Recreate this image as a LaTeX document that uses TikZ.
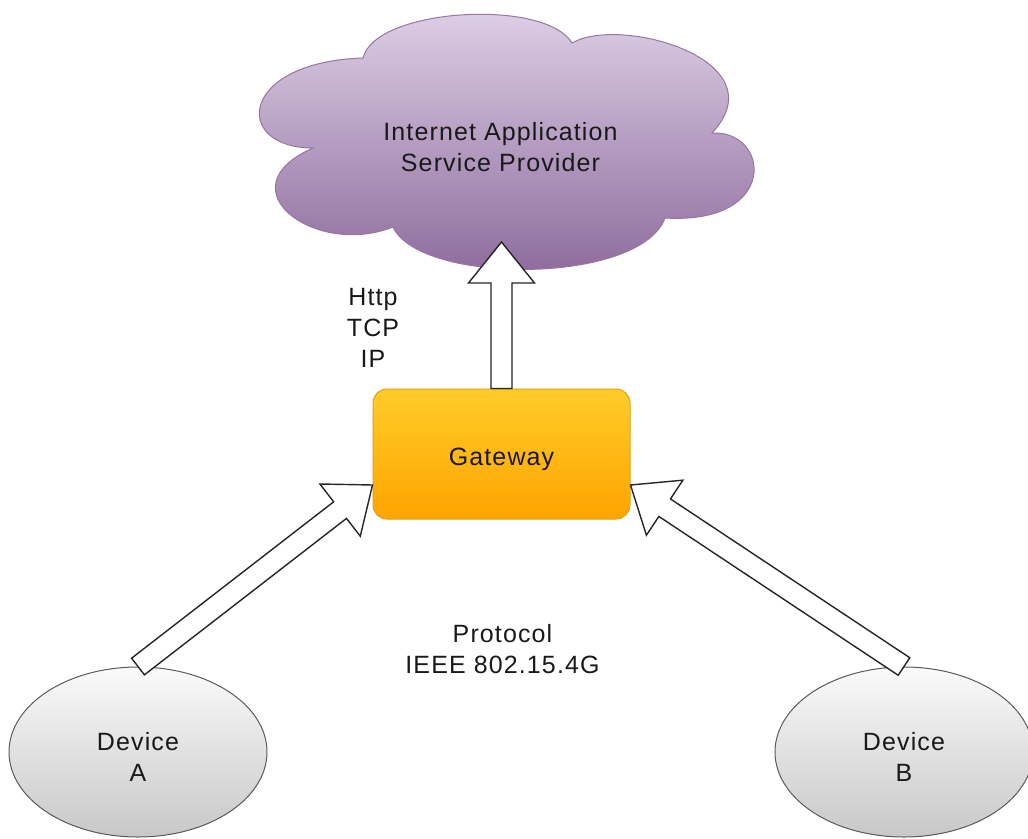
\documentclass[tikz,border=0pt]{standalone}
\usepackage{fontspec}
\setmainfont{Liberation Sans}[LetterSpace=4.5]
\usetikzlibrary{shapes.geometric,calc}

\definecolor{cloudtop}{RGB}{224,211,232}
\definecolor{cloudbottom}{RGB}{139,104,155}
\definecolor{cloudedge}{RGB}{150,118,165}
\definecolor{gwtop}{RGB}{255,204,42}
\definecolor{gwbottom}{RGB}{255,164,0}
\definecolor{gwedge}{RGB}{228,160,20}
\definecolor{devtop}{RGB}{250,250,250}
\definecolor{devbottom}{RGB}{200,200,200}
\definecolor{devedge}{RGB}{90,90,90}

\tikzset{
  label text/.style={font=\fontsize{25}{31}\selectfont, text=black!90, align=center},
  device/.style={ellipse, draw=devedge, line width=1pt,
    top color=devtop, bottom color=devbottom, inner sep=0pt,
    minimum width=258pt, minimum height=170pt},
  gateway box/.style={rectangle, rounded corners=14pt, draw=gwedge, line width=1pt,
    top color=gwtop, bottom color=gwbottom, inner sep=0pt,
    minimum width=257pt, minimum height=130pt},
  inside text/.style={label={[label text, yshift=-5pt]center:{#1}}},
  fat/.style={draw=black!85, fill=white, line width=1.4pt, line join=miter},
}

% hollow block arrow from #1 to #2 (shaft 21pt wide, head 66pt wide, 41pt long)
\newcommand\drawfatarrow[2]{%
  \coordinate (headbase) at ($(#2)!41pt!(#1)$);
  \draw[fat] ($(#1)!10.5pt!90:(#2)$) -- ($(headbase)!10.5pt!90:(#2)$)
    -- ($(headbase)!33pt!90:(#2)$) -- (#2)
    -- ($(headbase)!33pt!-90:(#2)$) -- ($(headbase)!10.5pt!-90:(#2)$)
    -- ($(#1)!10.5pt!-90:(#2)$) -- cycle;
}

\begin{document}
\begin{tikzpicture}[x=1pt,y=-1pt]
\useasboundingbox (0,0) rectangle (1028,838);

% cloud outline built from six lobes
\path[draw=cloudedge, line width=1pt, top color=cloudtop, bottom color=cloudbottom]
  (313,148) .. controls (232,148) and (238,62) .. (363,58)
  .. controls (375,8) and (545,-2) .. (572,43)
  .. controls (620,15) and (780,60) .. (712,133)
  .. controls (770,130) and (780,225) .. (665,218)
  .. controls (640,285) and (420,285) .. (393,227)
  .. controls (315,258) and (222,188) .. (313,148) -- cycle;
\node[label text] (cloud) at (500.5,147) {Internet Application\\Service Provider};
\coordinate (cloudtip) at (501.5,242);

% gateway and devices
\node[gateway box, inside text=Gateway] (gw) at (501.5,454) {};
\node[device, inside text={Device\\A}] (devA) at (138,752) {};
\node[device, inside text={Device\\B}] (devB) at (904,752) {};

\coordinate (gwA) at ([yshift=-31pt]gw.west);
\coordinate (gwB) at ([yshift=-31pt]gw.east);

% protocol labels
\node[label text] (upper proto) at (373,328) {Http\\TCP\\IP};
\node[label text] (lower proto) at (502.5,649) {Protocol\\IEEE 802.15.4G};

% block arrows
\drawfatarrow{gw.north}{cloudtip}
\drawfatarrow{devA.north}{gwA}
\drawfatarrow{devB.north}{gwB}
\end{tikzpicture}
\end{document}
